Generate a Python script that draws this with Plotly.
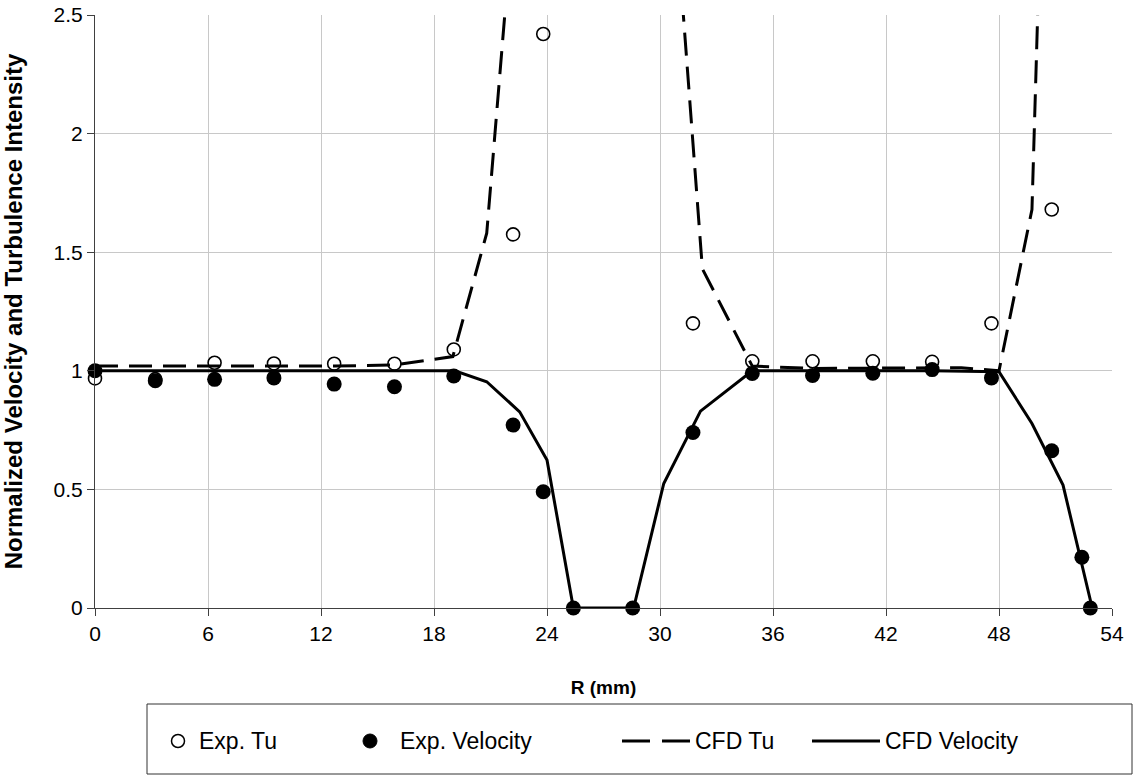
import plotly.graph_objects as go

# ---------------- data ----------------
exp_tu_r = [0, 3.2, 6.35, 9.5, 12.7, 15.9, 19.05, 22.2, 23.8, 31.75, 34.9, 38.1, 41.3, 44.45, 47.6, 50.8]
exp_tu = [0.968, 0.965, 1.034, 1.031, 1.03, 1.03, 1.09, 1.575, 2.42, 1.20, 1.04, 1.04, 1.04, 1.038, 1.20, 1.68]

exp_vel_r = [0, 3.2, 6.35, 9.5, 12.7, 15.9, 19.05, 22.2, 23.8, 25.4, 28.55, 31.75, 34.9, 38.1, 41.3, 44.45, 47.6, 50.8, 52.4, 52.85]
exp_vel = [1.0, 0.958, 0.964, 0.97, 0.944, 0.933, 0.978, 0.771, 0.49, 0.0, 0.0, 0.74, 0.989, 0.98, 0.99, 1.005, 0.97, 0.663, 0.214, 0.0]

cfd_tu_r = [0, 3.2, 6.35, 9.5, 12.7, 15.9, 19.0, 20.8, 22.55, 24.0, 25.4, 28.6, 30.2, 32.25, 34.9, 38.1, 41.3, 44.45, 46.0, 48.0, 49.75, 51.4]
cfd_tu = [1.02, 1.02, 1.02, 1.02, 1.02, 1.025, 1.06, 1.58, 3.4, 5.0, 6.0, 6.0, 3.6, 1.43, 1.02, 1.01, 1.01, 1.01, 1.013, 1.0, 1.68, 6.15]

cfd_vel_r = [0, 3.2, 6.35, 9.5, 12.7, 15.9, 19.1, 20.8, 22.55, 24.0, 25.4, 28.6, 30.2, 32.15, 34.9, 38.1, 41.3, 44.45, 48.0, 49.75, 51.4, 52.95]
cfd_vel = [1.0, 1.0, 1.0, 1.0, 1.0, 1.0, 1.0, 0.954, 0.827, 0.624, 0.0, 0.0, 0.525, 0.83, 1.0, 1.0, 1.0, 1.0, 0.996, 0.778, 0.518, 0.0]

x_ticks = [0, 6, 12, 18, 24, 30, 36, 42, 48, 54]
y_ticks = [0, 0.5, 1, 1.5, 2, 2.5]
y_tick_text = ["0", "0.5", "1", "1.5", "2", "2.5"]

legend_names = ["Exp. Tu", "Exp. Velocity", "CFD Tu", "CFD Velocity"]

FONT = "Liberation Sans, Arial, sans-serif"

# ---------------- layout geometry (pixels) ----------------
W, H = 1134, 775
L, R, T, B = 95, 22, 15, 167
PW, PH = W - L - R, H - T - B


def xp(px):
    return (px - L) / PW


def yp(py):
    return (H - B - py) / PH


fig = go.Figure()

fig.add_trace(go.Scatter(
    x=exp_tu_r, y=exp_tu, mode="markers", name=legend_names[0],
    marker=dict(symbol="circle-open", size=13, color="black", line=dict(width=1.6, color="black")),
    cliponaxis=False,
))
fig.add_trace(go.Scatter(
    x=exp_vel_r, y=exp_vel, mode="markers", name=legend_names[1],
    marker=dict(symbol="circle", size=15, color="black"),
    cliponaxis=False,
))
fig.add_trace(go.Scatter(
    x=cfd_tu_r, y=cfd_tu, mode="lines", name=legend_names[2],
    line=dict(color="black", width=3, dash="23px,11px"),
))
fig.add_trace(go.Scatter(
    x=cfd_vel_r, y=cfd_vel, mode="lines", name=legend_names[3],
    line=dict(color="black", width=3),
))

fig.update_layout(
    width=W, height=H,
    margin=dict(l=L, r=R, t=T, b=B, autoexpand=False),
    paper_bgcolor="white", plot_bgcolor="white",
    showlegend=False,
    font=dict(family=FONT, color="black", size=21),
)

fig.update_xaxes(
    range=[0, 54], tickvals=x_ticks, ticktext=[str(v) for v in x_ticks],
    showgrid=True, gridcolor="#c8c8c8", gridwidth=1,
    showline=True, linecolor="#404040", linewidth=1.2,
    ticks="outside", ticklen=7, tickcolor="#404040", tickwidth=1,
    tickfont=dict(size=21, family=FONT),
    zeroline=False,
    title=dict(text="<b>R (mm)</b>", font=dict(size=19, family=FONT), standoff=36),
)
fig.update_yaxes(
    range=[0, 2.5], tickvals=y_ticks, ticktext=y_tick_text,
    showgrid=True, gridcolor="#c8c8c8", gridwidth=1,
    showline=True, linecolor="#404040", linewidth=1.2,
    ticks="outside", ticklen=7, tickcolor="#404040", tickwidth=1,
    tickfont=dict(size=21, family=FONT),
    zeroline=False,
    title=dict(text="<b>Normalized Velocity and Turbulence Intensity</b>", font=dict(size=24, family=FONT), standoff=24),
)

# ---------------- custom legend box ----------------
shapes = []
annotations = []
box_left, box_right, box_top, box_bot = 147, 1132, 704, 774
shapes.append(dict(type="rect", xref="paper", yref="paper",
                   x0=xp(box_left), x1=xp(box_right), y0=yp(box_bot), y1=yp(box_top),
                   line=dict(color="#333333", width=1), fillcolor="rgba(0,0,0,0)"))
ly = 741
# open circle swatch
r = 6.5
cx = 178
shapes.append(dict(type="circle", xref="paper", yref="paper",
                   x0=xp(cx - r), x1=xp(cx + r), y0=yp(ly + r), y1=yp(ly - r),
                   line=dict(color="black", width=1.5), fillcolor="white"))
# filled circle swatch
cx = 370
shapes.append(dict(type="circle", xref="paper", yref="paper",
                   x0=xp(cx - 7), x1=xp(cx + 7), y0=yp(ly + 7), y1=yp(ly - 7),
                   line=dict(color="black", width=1), fillcolor="black"))
# dashed swatch
shapes.append(dict(type="line", xref="paper", yref="paper",
                   x0=xp(622), x1=xp(690), y0=yp(ly), y1=yp(ly),
                   line=dict(color="black", width=3, dash="28px,12px")))
# solid swatch
shapes.append(dict(type="line", xref="paper", yref="paper",
                   x0=xp(812), x1=xp(880), y0=yp(ly), y1=yp(ly),
                   line=dict(color="black", width=3)))

text_x = [197, 398, 693, 883]
for name, tx in zip(legend_names, text_x):
    annotations.append(dict(xref="paper", yref="paper", x=xp(tx), y=yp(ly),
                            text=name, showarrow=False, xanchor="left", yanchor="middle",
                            font=dict(size=23, family=FONT, color="black")))

fig.update_layout(shapes=shapes, annotations=annotations)

fig.write_html("out.html")
